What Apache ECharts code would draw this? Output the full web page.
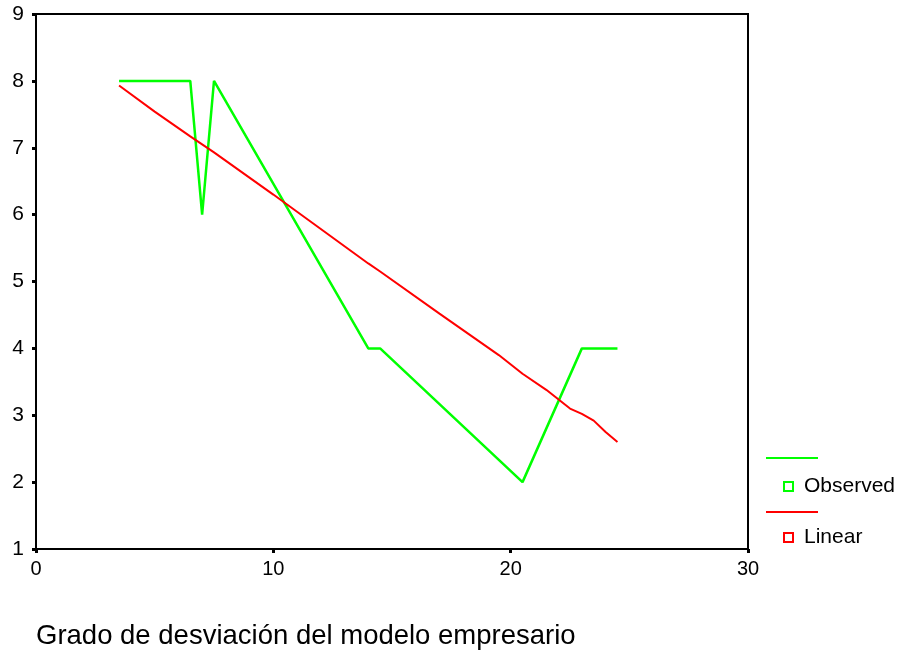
<!DOCTYPE html>
<html>
<head>
<meta charset="utf-8">
<script src="https://cdn.jsdelivr.net/npm/echarts@6/dist/echarts.min.js"></script>
<style>html,body{margin:0;padding:0;background:#fff}#c{width:900px;height:654px}</style>
</head>
<body>
<div id="c"></div>
<script>
// Observed series (x, y)
var observedX = [3.5, 6.5, 7.0, 7.5, 14.0, 14.5, 20.5, 23.0, 24.5];
var observedY = [8, 8, 6, 8, 4, 4, 2, 4, 4];
// Linear fit
var linearX = [3.5, 5.0, 6.5, 7.0, 7.5, 10.0, 14.0, 14.5, 17.0, 19.5, 20.5, 21.5, 22.5, 23.0, 23.5, 24.0, 24.5];
var linearY = [7.93, 7.54, 7.17, 7.05, 6.93, 6.30, 5.27, 5.15, 4.52, 3.90, 3.62, 3.38, 3.10, 3.02, 2.92, 2.75, 2.60];
var xTicks = {min: 0, max: 30, interval: 10};
var yTicks = {min: 1, max: 9, interval: 1};
var titleText = 'Grado de desviación del modelo empresario';
var seriesNames = ['Observed', 'Linear'];

function zip(a, b) { return a.map(function (v, i) { return [v, b[i]]; }); }

var FONT = 'Liberation Sans, Arial, sans-serif';
var chart = echarts.init(document.getElementById('c'), null, {renderer: 'canvas'});
chart.setOption({
  animation: false,
  backgroundColor: '#fff',
  title: {
    text: titleText, left: 36, top: 622, padding: 0,
    textStyle: {fontFamily: FONT, fontSize: 27.5, fontWeight: 'normal', color: '#000'}
  },
  grid: {left: 36, right: 152, top: 14, bottom: 105, show: true, borderColor: '#000', borderWidth: 2, backgroundColor: 'transparent'},
  xAxis: {
    type: 'value', min: xTicks.min, max: xTicks.max, interval: xTicks.interval,
    axisLine: {show: true, lineStyle: {color: '#000', width: 2}},
    axisTick: {show: true, length: 4, lineStyle: {color: '#000', width: 3}},
    axisLabel: {fontFamily: FONT, fontSize: 20, color: '#000', margin: 10},
    splitLine: {show: false}
  },
  yAxis: {
    type: 'value', min: yTicks.min, max: yTicks.max, interval: yTicks.interval,
    axisLine: {show: true, lineStyle: {color: '#000', width: 2}},
    axisTick: {show: true, length: 4, lineStyle: {color: '#000', width: 3}},
    axisLabel: {fontFamily: FONT, fontSize: 21, color: '#000', margin: 12},
    splitLine: {show: false}
  },
  legend: {
    orient: 'vertical', left: 778, top: 471,
    itemWidth: 9, itemHeight: 9, itemGap: 30,
    textStyle: {fontFamily: FONT, fontSize: 21, color: '#000', padding: [0, 0, 0, 6]},
    data: [
      {name: seriesNames[0], icon: 'rect', itemStyle: {color: '#fff', borderColor: '#00ff00', borderWidth: 2}},
      {name: seriesNames[1], icon: 'rect', itemStyle: {color: '#fff', borderColor: '#ff0000', borderWidth: 2}}
    ]
  },
  graphic: [
    {type: 'line', shape: {x1: 766, y1: 458, x2: 818, y2: 458}, style: {stroke: '#00ff00', lineWidth: 2}},
    {type: 'line', shape: {x1: 766, y1: 512, x2: 818, y2: 512}, style: {stroke: '#ff0000', lineWidth: 2}}
  ],
  series: [
    {name: seriesNames[0], type: 'line', data: zip(observedX, observedY), showSymbol: false, symbol: 'none',
     lineStyle: {color: '#00ff00', width: 2.5}, itemStyle: {color: '#00ff00'}},
    {name: seriesNames[1], type: 'line', data: zip(linearX, linearY), showSymbol: false, symbol: 'none',
     lineStyle: {color: '#ff0000', width: 2}, itemStyle: {color: '#ff0000'}}
  ]
});
</script>
</body>
</html>
